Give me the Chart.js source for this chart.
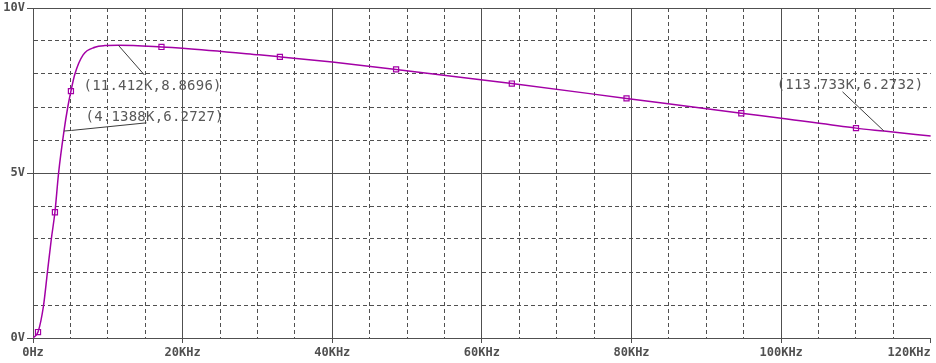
<!DOCTYPE html>
<html>
<head>
<meta charset="UTF-8">
<title>V(out) vs frequency</title>
<script src="https://cdn.jsdelivr.net/npm/chart.js"></script>
<style>
    body { margin: 0; background: #ffffff; }
    #wrap { width: 936px; height: 363px; }
</style>
</head>
<body>
<div id="wrap"><canvas id="chart" width="936" height="363"></canvas></div>
<script>
// trace (kHz, volts)
const freqKHz = [0, 0.67, 1.40, 1.93, 2.45, 2.93, 3.42, 4.14, 4.65, 5.07, 5.6, 6.7, 8.27, 9.6, 11.41,
                 17.17, 20, 30.2, 33.0, 40, 48.53, 64.0, 79.33, 94.67, 100, 110.0, 113.73, 120];
const voltage = [0, 0.18, 0.97, 2.0, 3.0, 3.81, 5.0, 6.27, 7.0, 7.48, 8.0, 8.58, 8.81, 8.86, 8.87,
                 8.82, 8.78, 8.58, 8.52, 8.36, 8.14, 7.71, 7.26, 6.81, 6.66, 6.36, 6.27, 6.12];

// square trace markers
const markerFreqKHz = [0.67, 2.93, 5.07, 17.17, 33.0, 48.53, 64.0, 79.33, 94.67, 110.0];
const markerVoltage = [0.18, 3.81, 7.48, 8.82, 8.52, 8.14, 7.71, 7.26, 6.81, 6.36];

// cursor readouts
const cursorFreqKHz = [11.412, 4.1388, 113.733];
const cursorVoltage = [8.8696, 6.2727, 6.2732];
const cursorLabels = ['(11.412K,8.8696)', '(4.1388K,6.2727)', '(113.733K,6.2732)'];

const xTickStep = 5;
const yTickStep = 1;

const GRAY = '#505050';
const TRACE = '#a300a6';

// where each readout label sits and where its leader line ends (data units)
const labelPlace = [
    { x: 6.76, y: 7.62, path: [[14.89, 7.97]] },
    { x: 7.03, y: 6.70, path: [[5.15, 6.29], [15.16, 6.52]] },
    { x: 99.4, y: 7.67, path: [[108.2, 7.46]] }
];

const cursorPlugin = {
    id: 'cursors',
    afterDatasetsDraw(chart) {
        const { ctx, scales: { x, y } } = chart;
        ctx.save();
        ctx.strokeStyle = '#3c3c3c';
        ctx.lineWidth = 1;
        cursorFreqKHz.forEach((f, i) => {
            ctx.beginPath();
            ctx.moveTo(x.getPixelForValue(f), y.getPixelForValue(cursorVoltage[i]));
            labelPlace[i].path.forEach(p => ctx.lineTo(x.getPixelForValue(p[0]), y.getPixelForValue(p[1])));
            ctx.stroke();
        });
        ctx.fillStyle = '#585858';
        ctx.font = '14px "DejaVu Sans Mono"';
        ctx.textBaseline = 'middle';
        ctx.textAlign = 'left';
        if ('letterSpacing' in ctx) ctx.letterSpacing = '0.2px';
        cursorLabels.forEach((t, i) => {
            ctx.fillText(t, x.getPixelForValue(labelPlace[i].x), y.getPixelForValue(labelPlace[i].y));
        });
        ctx.restore();
    }
};

const tickFont = { family: '"DejaVu Sans Mono"', size: 12, weight: 'bold' };

new Chart(document.getElementById('chart').getContext('2d'), {
    type: 'scatter',
    data: {
        datasets: [
            {
                data: freqKHz.map((f, i) => ({ x: f, y: voltage[i] })),
                showLine: true,
                borderColor: TRACE,
                borderWidth: 1.5,
                pointRadius: 0,
                cubicInterpolationMode: 'monotone'
            },
            {
                data: markerFreqKHz.map((f, i) => ({ x: f, y: markerVoltage[i] })),
                showLine: false,
                pointStyle: 'rect',
                pointRadius: 3.6,
                pointBorderWidth: 1.2,
                pointBorderColor: TRACE,
                pointBackgroundColor: '#ffffff'
            }
        ]
    },
    options: {
        responsive: false,
        animation: false,
        events: [],
        layout: { padding: { top: 8, right: 3, left: 0, bottom: 0 } },
        plugins: { legend: { display: false }, tooltip: { enabled: false } },
        scales: {
            x: {
                type: 'linear',
                min: 0,
                max: 120,
                afterFit(s) { s.height = 25; s.paddingLeft = 0; s.paddingRight = 0; },
                ticks: {
                    stepSize: xTickStep,
                    autoSkip: false,
                    maxRotation: 0,
                    padding: 3,
                    color: GRAY,
                    font: tickFont,
                    callback: v => v % 20 !== 0 ? '' : v === 0 ? '0Hz' : v === 120 ? v + 'KHz      ' : v + 'KHz'
                },
                grid: {
                    color: c => c.tick && c.tick.value === 120 ? 'rgba(0,0,0,0)' : GRAY,
                    tickColor: c => c.tick && c.tick.value % 20 === 0 ? GRAY : 'rgba(0,0,0,0)',
                    tickLength: 5,
                    lineWidth: 1
                },
                border: {
                    color: GRAY,
                    dash: c => c.tick && c.tick.value % 20 !== 0 ? [4, 3] : []
                }
            },
            y: {
                min: 0,
                max: 10,
                afterFit(s) { s.width = 33; s.paddingTop = 0; s.paddingBottom = 0; },
                ticks: {
                    stepSize: yTickStep,
                    autoSkip: false,
                    padding: 2,
                    color: GRAY,
                    font: tickFont,
                    callback: v => v % 5 === 0 ? v + 'V' : ''
                },
                grid: {
                    color: GRAY,
                    tickColor: c => c.tick && c.tick.value % 5 === 0 ? GRAY : 'rgba(0,0,0,0)',
                    tickLength: 6,
                    lineWidth: 1
                },
                border: {
                    color: GRAY,
                    dash: c => c.tick && c.tick.value % 5 !== 0 ? [4, 3] : []
                }
            }
        }
    },
    plugins: [cursorPlugin]
});
</script>
</body>
</html>
